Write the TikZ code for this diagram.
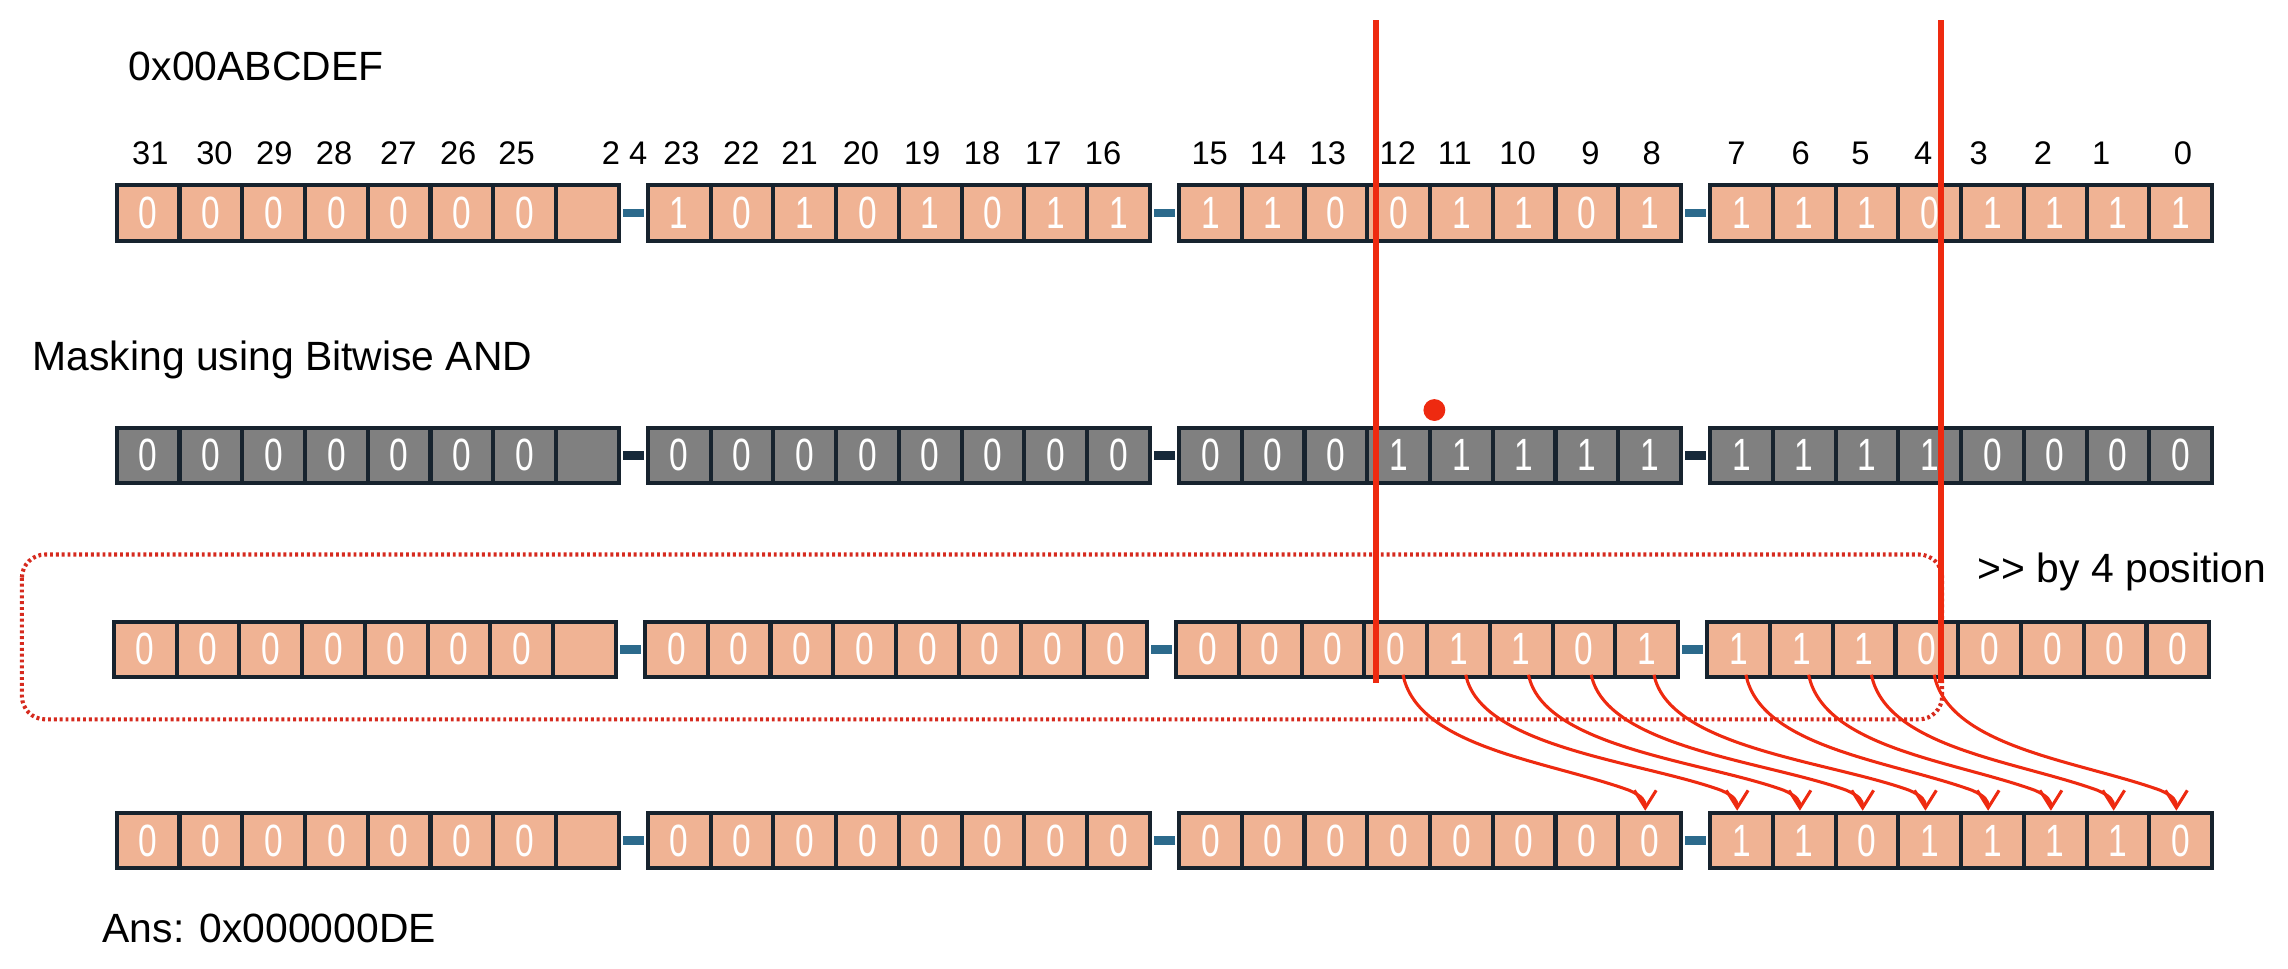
\documentclass[tikz,border=0pt]{standalone}
\usepackage{fontspec}
\setmainfont{Liberation Sans}
\newfontfamily\cellfont[FakeStretch=0.74]{Liberation Sans}
\usetikzlibrary{arrows.meta,calc}
\definecolor{peach}{HTML}{F0B394}
\definecolor{cellgray}{HTML}{808080}
\definecolor{edgecol}{HTML}{17232E}
\definecolor{linkblue}{HTML}{2C6A8C}
\definecolor{linkdark}{HTML}{16293A}
\definecolor{redline}{HTML}{EE2A10}
\definecolor{dotred}{HTML}{D62A1E}
\tikzset{
  cellbox/.style={draw=edgecol, line width=1.4pt, minimum width=21.5pt, minimum height=19pt,
    inner sep=0pt, font=\cellfont\fontsize{15.5}{15.5}\selectfont, text=white},
  peachcell/.style={cellbox, fill=peach},
  graycell/.style={cellbox, fill=cellgray},
  conn/.style={line width=3pt, draw=linkblue, shorten <=0.7pt, shorten >=0.7pt},
  conndark/.style={line width=3pt, draw=linkdark, shorten <=0.7pt, shorten >=0.7pt},
  bitlab/.style={font=\fontsize{11.2}{11.2}\selectfont, anchor=base, inner sep=0pt},
  bigtxt/.style={font=\fontsize{14}{14}\selectfont, anchor=base west, inner sep=0pt},
  redl/.style={draw=redline, line width=2.2pt},
  dotbox/.style={draw=dotred, line width=1.4pt, dash pattern=on 1pt off 1pt, rounded corners=8pt},
  arr/.style={draw=redline, line width=1.05pt, -{Straight Barb[length=6pt,width=7.5pt]}}
}
\newcommand\bitrow[5]{%
  \foreach \v [count=\ii from 0] in {#5} {
    \pgfmathtruncatemacro\gi{int(\ii/8)}
    \pgfmathtruncatemacro\ci{mod(\ii,8)}
    \pgfmathtruncatemacro\bi{31-\ii}
    \pgfmathsetmacro\xx{80+364*\gi+43*\ci+21.5+#3}
    \node[#4] (#1b\bi) at (\xx,#2) {\ifnum\ii=7\relax\else\v\fi};
  }
}
\begin{document}
\begin{tikzpicture}[x=0.5pt,y=-0.5pt]
\useasboundingbox (0,0) rectangle (1568,664);
% texts
\node[bigtxt] (title) at (88,55) {0x00ABCDEF};
\node[bigtxt] (mask) at (22,254) {Masking using Bitwise AND};
\node[bigtxt] (shift) at (1355,399) {>\kern0pt> by 4 position};
\node[bigtxt] (ans) at (70,646) {Ans: 0x000000DE};
% bit labels
\foreach \t/\x [count=\k] in {31/103,30/147,29/188,28/229,27/273,26/314,25/354,2 4/428,
  23/467,22/508,21/548,20/590,19/632,18/673,17/715,16/756,
  15/829,14/869,13/910,12/958,11/997,10/1040,9/1090,8/1132,
  7/1190,6/1234,5/1275,4/1318,3/1356,2/1400,1/1440,0/1496}
  \node[bitlab] (lab\k) at (\x,113) {\t};
% dotted box
\coordinate (dbA) at (15,380);
\coordinate (dbB) at (1331,493);
\draw[dotbox] (dbA) rectangle (dbB);
% rows
\bitrow{r1}{146}{0}{peachcell}{0,0,0,0,0,0,0,0, 1,0,1,0,1,0,1,1, 1,1,0,0,1,1,0,1, 1,1,1,0,1,1,1,1}
\bitrow{r2}{312}{0}{graycell}{0,0,0,0,0,0,0,0, 0,0,0,0,0,0,0,0, 0,0,0,1,1,1,1,1, 1,1,1,1,0,0,0,0}
\bitrow{r3}{445}{-2}{peachcell}{0,0,0,0,0,0,0,0, 0,0,0,0,0,0,0,0, 0,0,0,0,1,1,0,1, 1,1,1,0,0,0,0,0}
\bitrow{r4}{576}{0}{peachcell}{0,0,0,0,0,0,0,0, 0,0,0,0,0,0,0,0, 0,0,0,0,0,0,0,0, 1,1,0,1,1,1,1,0}
% connectors
\foreach \r/\s in {r1/conn,r2/conndark,r3/conn,r4/conn} {
  \draw[\s] (\r b24.east) -- (\r b23.west);
  \draw[\s] (\r b16.east) -- (\r b15.west);
  \draw[\s] (\r b8.east) -- (\r b7.west);
}
% red dot
\node[circle, fill=redline, minimum size=7.5pt, inner sep=0pt] (dot) at (983,281) {};
% red vertical lines
\coordinate (l1t) at (943,14);
\coordinate (l1b) at (943,468);
\coordinate (l2t) at (1330,14);
\coordinate (l2b) at (1330,468);
\draw[redl] (l1t) -- (l1b);
\draw[redl] (l2t) -- (l2b);
% arrows
\foreach \s in {12,11,10,9,8,7,6,5,4} {
  \pgfmathtruncatemacro\e{\s-4}
  \draw[arr] ($(r3b\s.south)+(5,-3)$) .. controls +(10,50) and +(-55,-20) ..
    ($(r4b\e.north)+(-14,-14)$) .. controls +(9,4) and +(0,-7) .. ($(r4b\e.north)+(-3,0)$);
}
\end{tikzpicture}
\end{document}
